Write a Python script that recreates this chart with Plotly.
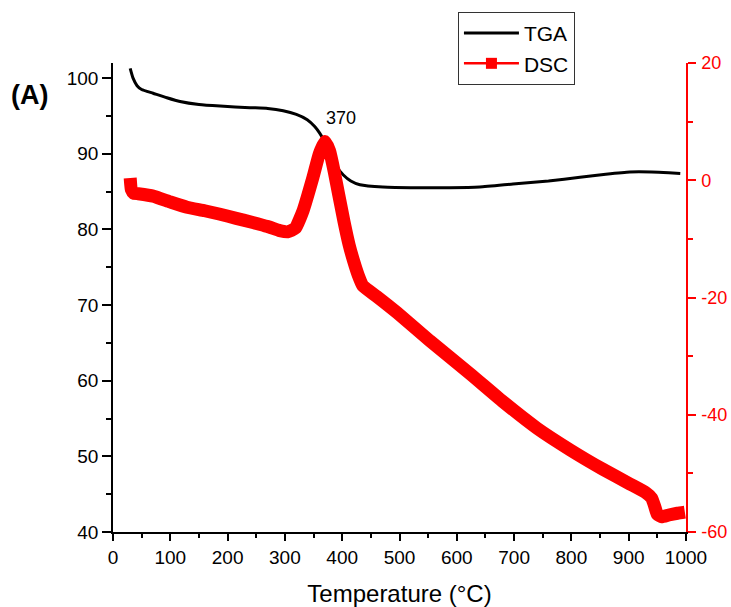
import plotly.graph_objects as go

# TGA curve: temperature (°C) vs. residual mass (%)
tga_temp = [30, 35, 42, 50, 70, 94, 117, 150, 187, 239, 270, 297, 320, 339, 352,
            361, 370, 380, 390, 402, 415, 431, 471, 530, 588, 640, 698, 760, 815,
            860, 902, 940, 970, 990]
tga_mass = [101.3, 100.0, 99.0, 98.5, 98.0, 97.4, 96.9, 96.5, 96.3, 96.1, 96.0,
            95.7, 95.2, 94.5, 93.6, 92.7, 91.5, 89.8, 88.3, 87.2, 86.4, 85.9,
            85.6, 85.5, 85.5, 85.6, 86.0, 86.4, 86.9, 87.3, 87.6, 87.6, 87.5, 87.4]

# DSC curve: temperature (°C) vs. heat flow
dsc_temp = [30, 32, 36, 44, 70, 100, 129, 160, 187, 215, 244, 270, 291, 305,
            318, 332, 349, 360, 370, 378, 386, 394, 403, 412, 420, 428, 436,
            460, 496, 553, 623, 681, 740, 798, 855, 902, 930, 940, 945, 950,
            958, 970, 985, 998]
dsc_flow = [0.4, -1.6, -2.2, -2.3, -2.7, -3.7, -4.6, -5.2, -5.8, -6.5, -7.2,
            -7.9, -8.6, -8.8, -8.2, -5.1, 0.5, 4.5, 6.6, 5.0, 1.5, -2.5, -7.0,
            -11.0, -13.8, -16.2, -18.0, -19.8, -22.6, -27.4, -33.0, -37.8,
            -42.3, -46.0, -49.3, -51.8, -53.3, -54.2, -55.5, -57.0, -57.4,
            -57.1, -56.8, -56.6]

peak_temp = 370
peak_label = "370"

x_ticks = list(range(0, 1001, 100))
y_ticks = list(range(40, 101, 10))
y2_ticks = [-60, -40, -20, 0, 20]
y2_text = ["-60", "-40", "-20", "0", "20"]

FONT = "Liberation Sans, Arial, sans-serif"
RED = "#ff0000"
peak_flow = dsc_flow[dsc_temp.index(peak_temp)]

fig = go.Figure()

fig.add_trace(go.Scatter(
    x=tga_temp, y=tga_mass, name="TGA", mode="lines",
    line=dict(color="black", width=3, shape="spline", smoothing=0.5),
))
fig.add_trace(go.Scatter(
    x=dsc_temp, y=dsc_flow, name="DSC", mode="lines", yaxis="y2",
    line=dict(color=RED, width=13, shape="spline", smoothing=0.4),
    showlegend=False, legendgroup="dsc",
))
# legend entry for the DSC series (line with square marker)
fig.add_trace(go.Scatter(
    x=[None], y=[None], name="DSC", mode="lines+markers", yaxis="y2",
    line=dict(color=RED, width=2.5),
    marker=dict(symbol="square", size=11, color=RED),
    legendgroup="dsc",
))

fig.add_annotation(
    x=peak_temp, y=peak_flow, yref="y2", text=peak_label, showarrow=False,
    xshift=16, yshift=24, font=dict(family=FONT, size=18, color="black"),
)
fig.add_annotation(
    xref="paper", yref="paper", x=-0.145, y=0.932, text="<b>(A)</b>",
    xanchor="center", yanchor="middle", showarrow=False,
    font=dict(family=FONT, size=27, color="black"),
)

fig.update_layout(
    width=731, height=607,
    margin=dict(l=113, r=45, t=63, b=75, autoexpand=False),
    paper_bgcolor="white", plot_bgcolor="white",
    font=dict(family=FONT, color="black"),
    showlegend=True,
    legend=dict(
        x=0.602, y=1.109, xanchor="left", yanchor="top",
        bordercolor="#333333", borderwidth=1, bgcolor="white",
        font=dict(family=FONT, size=21, color="black"),
        tracegroupgap=0, itemwidth=55,
    ),
    xaxis=dict(
        range=[0, 1000], tickvals=x_ticks, showgrid=False, zeroline=False,
        showline=True, linecolor="black", linewidth=1.5,
        ticks="outside", ticklen=7, tickwidth=1.5, tickcolor="black",
        minor=dict(dtick=50, ticks="outside", ticklen=4, tickwidth=1.5,
                   tickcolor="black", showgrid=False),
        tickfont=dict(family=FONT, size=19, color="black"),
        title=dict(text="Temperature (°C)", standoff=20,
                   font=dict(family=FONT, size=24, color="black")),
    ),
    yaxis=dict(
        range=[40, 102], tickvals=y_ticks, showgrid=False, zeroline=False,
        showline=True, linecolor="black", linewidth=1.5,
        ticks="outside", ticklen=9, tickwidth=1.5, tickcolor="black",
        minor=dict(dtick=5, ticks="outside", ticklen=5, tickwidth=1.5,
                   tickcolor="black", showgrid=False),
        tickfont=dict(family=FONT, size=19, color="black"),
    ),
    yaxis2=dict(
        range=[-60, 20], overlaying="y", side="right", anchor="x",
        tickvals=y2_ticks, ticktext=y2_text, showgrid=False, zeroline=False,
        showline=True, linecolor=RED, linewidth=1.5,
        ticks="outside", ticklen=8, tickwidth=1.5, tickcolor=RED,
        ticklabelstandoff=2,
        minor=dict(dtick=10, ticks="outside", ticklen=5, tickwidth=1.5,
                   tickcolor=RED, showgrid=False),
        tickfont=dict(family=FONT, size=18, color=RED),
    ),
)

fig.write_html("out.html")
